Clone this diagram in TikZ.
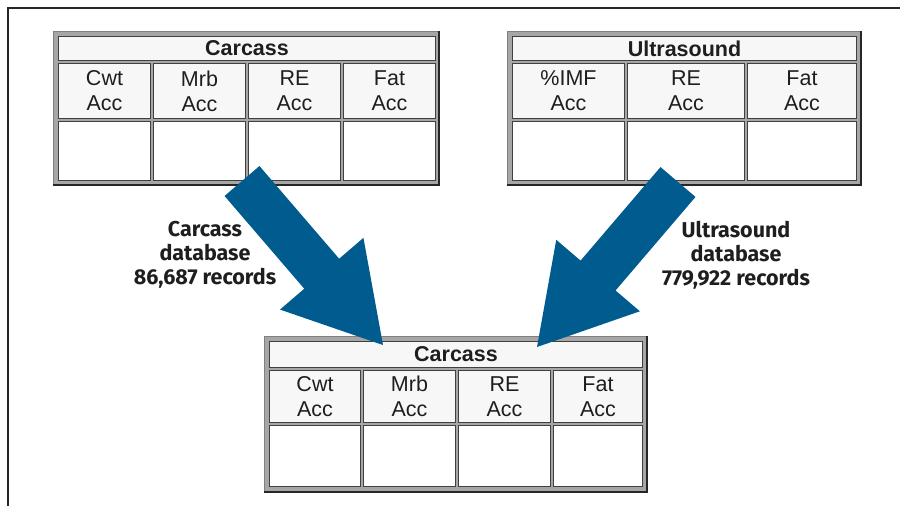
\documentclass[tikz,border=0pt]{standalone}
\usepackage{fontspec}
\setmainfont{Liberation Sans}
\newfontfamily\labelfont{Fira Sans}
\usetikzlibrary{calc}
\definecolor{arrowblue}{HTML}{005B8F}
\definecolor{inkc}{HTML}{1E1E1E}
\tikzset{
  frameline/.style={draw=black!85, line width=1.3pt},
  outerbox/.style={fill=black!35, draw=black!50, line width=0.6pt, inner sep=0pt},
  shadowline/.style={draw=black!85, line width=1.8pt},
  cellbox/.style={fill=white, draw=black!75, line width=1pt, inner sep=0pt,
    font=\fontsize{21.5}{25}\selectfont, text=inkc, align=center},
  headcell/.style={cellbox, fill=black!3},
  titlecell/.style={cellbox, fill=black!3, font=\fontsize{21.5}{25}\selectfont\bfseries},
  dblabel/.style={font=\labelfont\bfseries\fontsize{21.5}{24}\selectfont, text=inkc, align=center, inner sep=0pt},
  bigarrow/.style={fill=arrowblue, draw=none},
}
% cell: name, x1, y1, x2, y2, style, text
\newcommand\mkcell[7]{\node[#6, minimum width={((#4)-(#2)-3)*1pt}, minimum height={((#5)-(#3)-3)*1pt}] (#1) at ({((#2)+(#4))/2},{((#3)+(#5))/2}) {#7};}
% outer box: name, x1, y1, x2, y2
\newcommand\mkouter[5]{\node[outerbox, minimum width={((#4)-(#2))*1pt}, minimum height={((#5)-(#3))*1pt}] (#1) at ({((#2)+(#4))/2},{((#3)+(#5))/2}) {};
  \draw[shadowline] (#1.south west) -- (#1.south east) -- (#1.north east);}
% big arrow from coordinate #1 to coordinate #2
\newcommand\bigarr[2]{%
  \coordinate (#1h) at ($(#2)!94pt!(#1)$);
  \fill[bigarrow] ($(#1)!23pt!90:(#2)$) -- ($(#1h)!23pt!90:(#2)$) -- ($(#1h)!55pt!90:(#2)$)
    -- (#2) -- ($(#1h)!55pt!-90:(#2)$) -- ($(#1h)!23pt!-90:(#2)$) -- ($(#1)!23pt!-90:(#2)$) -- cycle;}
\begin{document}
\begin{tikzpicture}[x=1pt,y=-1pt]
\useasboundingbox (0,0) rectangle (900,506);
\fill[white] (0,0) rectangle (900,506);
% frame
\draw[frameline] (900,8) -- (8,8) -- (8,506);

% Carcass table (top left)
\mkouter{tabA}{53}{31}{439}{185}
\mkcell{aT}{57}{35}{437}{62}{titlecell}{Carcass}
\mkcell{aH1}{57}{62}{152}{120}{headcell}{Cwt\\Acc}
\mkcell{aH2}{152}{62}{247}{120}{headcell}{Mrb\\Acc}
\mkcell{aH3}{247}{62}{342}{120}{headcell}{RE\\Acc}
\mkcell{aH4}{342}{62}{437}{120}{headcell}{Fat\\Acc}
\mkcell{aD1}{57}{120}{152}{182}{cellbox}{}
\mkcell{aD2}{152}{120}{247}{182}{cellbox}{}
\mkcell{aD3}{247}{120}{342}{182}{cellbox}{}
\mkcell{aD4}{342}{120}{437}{182}{cellbox}{}

% Ultrasound table (top right)
\mkouter{tabB}{507}{31}{861}{185}
\mkcell{bT}{511}{35}{858}{62}{titlecell}{Ultrasound}
\mkcell{bH1}{511}{62}{626}{120}{headcell}{\%IMF\\Acc}
\mkcell{bH2}{626}{62}{746}{120}{headcell}{RE\\Acc}
\mkcell{bH3}{746}{62}{858}{120}{headcell}{Fat\\Acc}
\mkcell{bD1}{511}{120}{626}{182}{cellbox}{}
\mkcell{bD2}{626}{120}{746}{182}{cellbox}{}
\mkcell{bD3}{746}{120}{858}{182}{cellbox}{}

% Carcass table (bottom)
\mkouter{tabC}{264}{336}{647}{492}
\mkcell{cT}{268}{340}{644}{369}{titlecell}{Carcass}
\mkcell{cH1}{268}{369}{362}{424}{headcell}{Cwt\\Acc}
\mkcell{cH2}{362}{369}{457}{424}{headcell}{Mrb\\Acc}
\mkcell{cH3}{457}{369}{552}{424}{headcell}{RE\\Acc}
\mkcell{cH4}{552}{369}{644}{424}{headcell}{Fat\\Acc}
\mkcell{cD1}{268}{424}{362}{488}{cellbox}{}
\mkcell{cD2}{362}{424}{457}{488}{cellbox}{}
\mkcell{cD3}{457}{424}{552}{488}{cellbox}{}
\mkcell{cD4}{552}{424}{644}{488}{cellbox}{}

% arrows
\coordinate (arrA) at (242,181);
\coordinate (tipA) at (383,345);
\coordinate (arrB) at (678,182);
\coordinate (tipB) at (537,347);
\bigarr{arrA}{tipA}
\bigarr{arrB}{tipB}

% labels
\node[dblabel] (lblA) at (205,255) {Carcass\\database\\86,687 records};
\node[dblabel] (lblB) at (736,255) {Ultrasound\\database\\779,922 records};
\end{tikzpicture}
\end{document}
